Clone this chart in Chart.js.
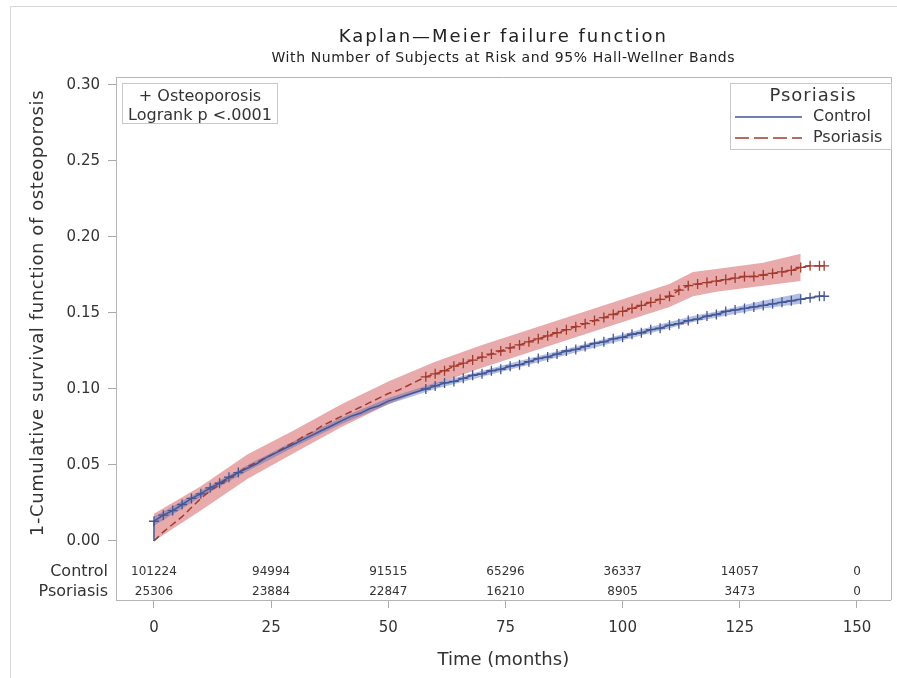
<!DOCTYPE html>
<html><head><meta charset="utf-8">
<script src="https://cdn.jsdelivr.net/npm/chart.js@4"></script>
<style>html,body{margin:0;padding:0;background:#fff;overflow:hidden}canvas{display:block}</style>
</head><body>
<canvas id="c" width="897" height="678"></canvas>
<script>
// ---------- data ----------
const months = [0,0,2,4,6,8,10,12,14,16,18,20,22,24,26,28,30,32,34,36,38,40,42,44,46,48,50,52,54,56,58,60,62,64,66,68,70,72,74,76,78,80,82,84,86,88,90,92,94,96,98,100,102,104,106,108,110,112,114,116,118,120,122,124,126,128,130,132,134,136,138,140,142,143];
const controlFailure = [0.000,0.013,0.017,0.020,0.024,0.028,0.031,0.035,0.038,0.042,0.045,0.048,0.051,0.055,0.058,0.061,0.064,0.067,0.070,0.073,0.076,0.079,0.082,0.084,0.087,0.089,0.092,0.094,0.096,0.098,0.100,0.102,0.104,0.105,0.107,0.109,0.110,0.112,0.113,0.115,0.116,0.118,0.120,0.121,0.123,0.125,0.126,0.128,0.130,0.131,0.133,0.134,0.136,0.137,0.139,0.140,0.142,0.143,0.145,0.146,0.148,0.149,0.151,0.152,0.153,0.154,0.155,0.156,0.157,0.158,0.159,0.160,0.161,0.161];
const psoriasisFailure = [0.000,0.000,0.006,0.011,0.016,0.022,0.028,0.033,0.037,0.041,0.045,0.049,0.052,0.055,0.058,0.062,0.065,0.069,0.072,0.076,0.079,0.082,0.085,0.088,0.091,0.094,0.097,0.099,0.102,0.105,0.108,0.110,0.112,0.115,0.117,0.119,0.121,0.123,0.125,0.127,0.129,0.131,0.133,0.135,0.137,0.139,0.141,0.143,0.145,0.147,0.149,0.151,0.153,0.155,0.157,0.159,0.161,0.165,0.168,0.169,0.170,0.171,0.172,0.173,0.174,0.174,0.175,0.176,0.177,0.178,0.180,0.181,0.181,0.181];

const bandMonths      = [0,10,20,30,40,50,60,70,80,90,100,110,115,120,130,138];
const psoriasisLower  = [0.000,0.020,0.041,0.058,0.075,0.090,0.103,0.114,0.124,0.134,0.144,0.154,0.161,0.164,0.168,0.171];
const psoriasisUpper  = [0.018,0.036,0.057,0.073,0.090,0.105,0.118,0.129,0.139,0.149,0.159,0.169,0.177,0.179,0.183,0.189];
const controlLower    = [0.010,0.029,0.046,0.062,0.077,0.090,0.100,0.108,0.116,0.124,0.132,0.140,0.144,0.147,0.153,0.156];
const controlUpper    = [0.016,0.033,0.050,0.066,0.081,0.094,0.104,0.112,0.120,0.128,0.136,0.144,0.148,0.151,0.158,0.163];

const riskTimes       = [0,25,50,75,100,125,150];
const controlAtRisk   = [101224,94994,91515,65296,36337,14057,0];
const psoriasisAtRisk = [25306,23884,22847,16210,8905,3473,0];

const xTicks = [0,25,50,75,100,125,150];
const yTicks = [0,0.05,0.10,0.15,0.20,0.25,0.30];

const groupNames = ['Control','Psoriasis'];
const titleText = 'Kaplan\u2014Meier failure function';
const subtitleText = 'With Number of Subjects at Risk and 95% Hall-Wellner Bands';
const yTitle = '1-Cumulative survival function of osteoporosis';
const xTitle = 'Time (months)';
const insetLines = ['+ Osteoporosis','Logrank p <.0001'];
const legendTitle = 'Psoriasis';

// ---------- styling ----------
const FONT = "'DejaVu Sans', sans-serif";
const BLUE = '#445694', RED = '#A23A2E';
const BLUE_BAND = 'rgba(85,110,190,0.45)', RED_BAND = 'rgba(210,85,85,0.5)';
const AXIS = '#b5b5b5', TXT = '#333';

const pts = (xs, ys) => xs.map((x, i) => ({x, y: ys[i]}));

const controlCensor = ctx => {
  const t = months[ctx.dataIndex];
  return (ctx.dataIndex >= 1 && t <= 18) || t >= 58 ? 5 : 0;
};
const psoriasisCensor = ctx => (months[ctx.dataIndex] >= 58 ? 5 : 0);

const decor = {
  id: 'decor',
  afterDraw(chart) {
    const {ctx, chartArea: a, scales: {x, y}} = chart;
    ctx.save();
    // outer border
    ctx.strokeStyle = '#d6d6d6'; ctx.lineWidth = 1;
    ctx.beginPath();
    ctx.moveTo(10.5, 678); ctx.lineTo(10.5, 6.5); ctx.lineTo(897, 6.5);
    ctx.stroke();
    // frame top and right
    ctx.strokeStyle = AXIS;
    ctx.beginPath();
    ctx.moveTo(a.left, Math.round(a.top) + 0.5);
    ctx.lineTo(Math.round(a.right) + 0.5, Math.round(a.top) + 0.5);
    ctx.lineTo(Math.round(a.right) + 0.5, a.bottom);
    ctx.stroke();

    const cx = (a.left + a.right) / 2;
    ctx.fillStyle = '#222';
    ctx.textAlign = 'center'; ctx.textBaseline = 'middle';
    ctx.font = '18px ' + FONT; ctx.letterSpacing = '2px';
    ctx.fillText(titleText, cx, 37);
    ctx.font = '14px ' + FONT; ctx.letterSpacing = '0.6px';
    ctx.fillText(subtitleText, cx, 58);
    ctx.letterSpacing = '0px';

    // y title, centred on the 0..0.30 range
    ctx.fillStyle = TXT;
    ctx.save();
    ctx.translate(38, (y.getPixelForValue(0) + y.getPixelForValue(0.30)) / 2);
    ctx.rotate(-Math.PI / 2);
    ctx.font = '18px ' + FONT; ctx.letterSpacing = '0.6px';
    ctx.fillText(yTitle, 0, 0);
    ctx.restore();
    ctx.letterSpacing = '0px';

    // inset box
    ctx.strokeStyle = '#c8c8c8';
    ctx.strokeRect(122.5, 83.5, 155, 40);
    ctx.font = '16px ' + FONT;
    ctx.fillText(insetLines[0], 200, 97);
    ctx.fillText(insetLines[1], 200, 116);

    // legend
    ctx.strokeRect(730.5, 83.5, 161, 66);
    ctx.font = '18px ' + FONT; ctx.letterSpacing = '1px';
    ctx.fillText(legendTitle, 813, 96);
    ctx.letterSpacing = '0px';
    ctx.lineWidth = 1.5;
    ctx.strokeStyle = BLUE;
    ctx.beginPath(); ctx.moveTo(735, 117); ctx.lineTo(802, 117); ctx.stroke();
    ctx.strokeStyle = RED; ctx.setLineDash([14, 5]);
    ctx.beginPath(); ctx.moveTo(735, 138); ctx.lineTo(802, 138); ctx.stroke();
    ctx.setLineDash([]);
    ctx.textAlign = 'left'; ctx.font = '16px ' + FONT;
    ctx.fillText(groupNames[0], 813, 117);
    ctx.fillText(groupNames[1], 813, 138);

    // at-risk table
    ctx.textAlign = 'right'; ctx.font = '16px ' + FONT;
    ctx.fillText(groupNames[0], 108, 572);
    ctx.fillText(groupNames[1], 108, 592);
    ctx.textAlign = 'center'; ctx.font = '12px ' + FONT;
    riskTimes.forEach((t, i) => {
      const px = x.getPixelForValue(t);
      ctx.fillText(String(controlAtRisk[i]), px, 572);
      ctx.fillText(String(psoriasisAtRisk[i]), px, 592);
    });
    ctx.restore();
  }
};

Chart.defaults.font.family = FONT;
Chart.defaults.color = TXT;

new Chart(document.getElementById('c'), {
  type: 'line',
  data: {
    datasets: [
      {label: 'Control', data: pts(months, controlFailure), borderColor: BLUE, borderWidth: 1.5,
       pointStyle: 'cross', pointRadius: controlCensor, pointBorderColor: BLUE, pointBorderWidth: 1.3,
       fill: false, order: 1},
      {label: 'Psoriasis', data: pts(months, psoriasisFailure), borderColor: RED, borderWidth: 1.5,
       borderDash: [7, 4], pointStyle: 'cross', pointRadius: psoriasisCensor, pointBorderColor: RED,
       pointBorderWidth: 1.3, fill: false, order: 1},
      {label: 'cu', data: pts(bandMonths, controlUpper), borderWidth: 0, pointRadius: 0,
       backgroundColor: BLUE_BAND, fill: 3, order: 2},
      {label: 'cl', data: pts(bandMonths, controlLower), borderWidth: 0, pointRadius: 0, fill: false, order: 2},
      {label: 'pu', data: pts(bandMonths, psoriasisUpper), borderWidth: 0, pointRadius: 0,
       backgroundColor: RED_BAND, fill: 5, order: 3},
      {label: 'pl', data: pts(bandMonths, psoriasisLower), borderWidth: 0, pointRadius: 0, fill: false, order: 3}
    ]
  },
  options: {
    responsive: false, animation: false, devicePixelRatio: 1,
    layout: {padding: {left: 0, top: 77, right: 5, bottom: 0}},
    plugins: {legend: {display: false}, tooltip: {enabled: false}, title: {display: false}},
    elements: {line: {tension: 0}},
    scales: {
      x: {
        type: 'linear', min: -8.1, max: 157.2,
        afterBuildTicks: s => { s.ticks = xTicks.map(v => ({value: v})); },
        afterFit: s => { s.height = 78; },
        ticks: {font: {size: 15}, color: TXT, padding: 11, callback: v => String(v)},
        grid: {drawOnChartArea: false, drawTicks: true, tickLength: 8, color: '#aaa'},
        border: {display: true, color: AXIS},
        title: {display: true, text: xTitle, font: {size: 18}, color: TXT, padding: {top: 0, bottom: 7}}
      },
      y: {
        type: 'linear', min: -0.03882, max: 0.30526,
        afterBuildTicks: s => { s.ticks = yTicks.map(v => ({value: v})); },
        afterFit: s => { s.width = 116; },
        ticks: {font: {size: 15}, color: TXT, padding: 8, callback: v => v.toFixed(2)},
        grid: {drawOnChartArea: false, drawTicks: true, tickLength: 8, color: '#aaa'},
        border: {display: true, color: AXIS}
      }
    }
  },
  plugins: [decor]
});
</script>
</body></html>
